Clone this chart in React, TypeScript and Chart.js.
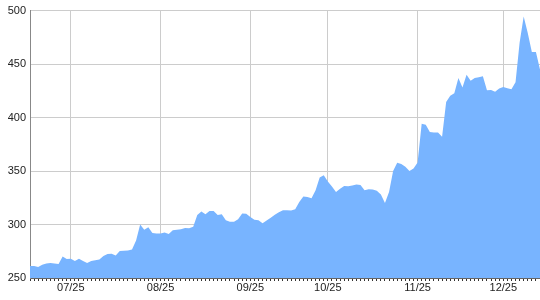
import React, { useEffect, useRef } from "react";
import { Chart, registerables } from "chart.js";

Chart.register(...registerables);

const monthLabels = ["06/25", "07/25", "08/25", "09/25", "10/25", "11/25", "12/25"];
const sessionsPerMonth = [10, 22, 22, 19, 22, 21, 10];

const closes = [
  261.3, 261.2, 260.3, 262.4, 263.6, 264, 263.5, 263, 270, 267.8,
  268, 266, 268, 266, 264, 265.9, 266.6, 267.4, 270.5, 272.4,
  272.6, 271, 275.2, 275.4, 275.6, 276.6, 285, 300, 295, 297.5,
  292, 291.5, 291.5, 292.5, 291.2, 294.6, 295.1, 295.5, 296.8, 296.6,
  298, 309, 312.2, 309.5, 312.6, 312.7, 309, 309.7, 304, 302.6,
  302.7, 305, 310.4, 310, 307.1, 304.5, 304.1, 301.1, 303.8, 306.4,
  309.1, 311.4, 313.4, 313.3, 313.1, 314.3, 321, 326.1, 325.8, 324.5,
  332, 344, 346, 340.3, 335.5, 330.4, 333.5, 336, 335.7, 336.4,
  337.4, 337, 332, 332.9, 332.8, 331.6, 328, 320.1, 330.5, 350,
  357.7, 356.5, 354, 350, 352.3, 358, 394.3, 393.3, 386.5, 386,
  386, 382, 414.5, 420.3, 422.7, 437, 428, 440, 434.5, 437,
  437.6, 438.6, 425.5, 425.8, 424.1, 427.1, 428.5, 427.3, 426.4, 433,
  470, 494.5, 479, 461.4, 461.4, 445,
];

const yMin = 250;
const yMax = 500;
const yStep = 50;

const labels: string[] = monthLabels.flatMap((m, i) =>
  Array.from({ length: sessionsPerMonth[i] }, () => m)
);

const isMonthStart = (i: number) => i > 0 && labels[i] !== labels[i - 1];

export default function App() {
  const ref = useRef<HTMLCanvasElement>(null);

  useEffect(() => {
    document.body.style.margin = "0";
    const canvas = ref.current;
    if (!canvas) return;
    const font = { family: "'Liberation Sans', Arial, sans-serif", size: 11 };
    const chart = new Chart(canvas, {
      type: "line",
      data: {
        labels,
        datasets: [
          {
            data: closes,
            fill: "start",
            backgroundColor: "#78b4ff",
            borderColor: "#78b4ff",
            borderWidth: 0,
            pointRadius: 0,
            tension: 0,
          },
        ],
      },
      options: {
        responsive: false,
        animation: false,
        layout: { padding: { top: 8, left: 0, right: 0, bottom: 0 } },
        plugins: {
          legend: { display: false },
          tooltip: { enabled: false },
        },
        scales: {
          x: {
            type: "category",
            offset: false,
            afterFit: (s: any) => {
              s.height = 22;
            },
            border: { color: "#666", width: 1 },
            grid: {
              color: (ctx: any) => (isMonthStart(ctx.index) ? "#cccccc" : "rgba(0,0,0,0)"),
              tickColor: "#333",
              tickLength: 3,
              drawTicks: true,
            },
            ticks: {
              autoSkip: false,
              maxRotation: 0,
              minRotation: 0,
              padding: 0,
              color: "#222",
              font,
              callback: (_v: any, i: number) => (isMonthStart(i) ? labels[i] : ""),
            },
          },
          y: {
            min: yMin,
            max: yMax,
            afterFit: (s: any) => {
              s.width = 30;
            },
            border: { color: "#888", width: 1 },
            grid: { color: "#cccccc", drawTicks: false },
            ticks: {
              stepSize: yStep,
              padding: 4,
              color: "#222",
              font,
            },
          },
        },
      },
    });
    return () => chart.destroy();
  }, []);

  return (
    <div style={{ width: 540, height: 300 }}>
      <canvas ref={ref} width={540} height={300} />
    </div>
  );
}
